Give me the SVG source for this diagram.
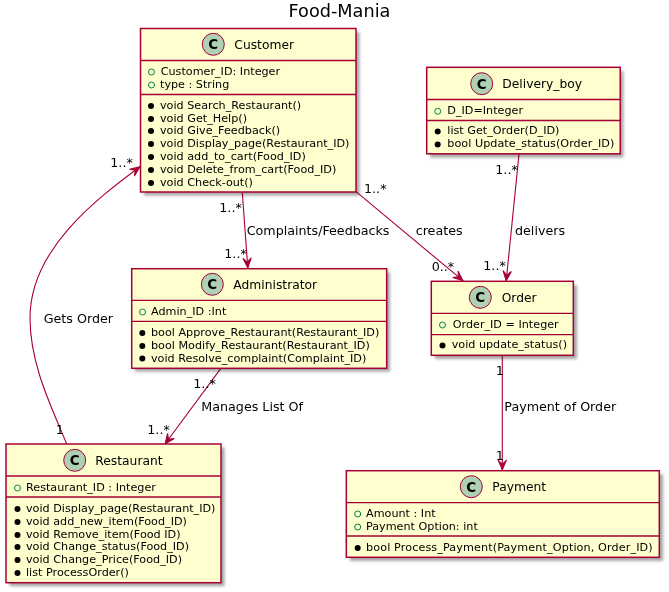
<svg xmlns="http://www.w3.org/2000/svg" width="669" height="592" viewBox="0 0 669 592">
<style>
text{font-family:"DejaVu Sans",sans-serif;fill:#000;opacity:.999}
.t{font-size:17.7px}
.n{font-size:12.3px}
.m{font-size:11.2px}
.l{font-size:12.7px}
.b{fill:#FEFECE;stroke:#A80036;stroke-width:1.5}
.s{fill:#000;opacity:.35}
.d{stroke:#A80036;stroke-width:1.3;fill:none}
.c{fill:#ADD1B2;stroke:#A80036;stroke-width:1}
.v{fill:none;stroke:#038048;stroke-width:1}
.p{fill:#000}
.e{fill:none;stroke:#A80036;stroke-width:1.1;marker-end:url(#arr)}
.g{font-size:13.5px;font-weight:bold}
</style>
<defs>
<filter id="sh" x="-5%" y="-5%" width="115%" height="115%"><feGaussianBlur stdDeviation="1.6"/></filter>
<marker id="arr" viewBox="-11 -6 12 12" refX="0" refY="0" markerWidth="12" markerHeight="12" markerUnits="userSpaceOnUse" orient="auto"><path d="M0 0L-10 -4.2L-6 0L-10 4.2Z" fill="#A80036" stroke="#A80036" stroke-width="1"/></marker>
<g id="ci"><circle class="c" r="11"/><text class="g" x="0" y="4.9" text-anchor="middle">C</text></g>
</defs>
<rect width="669" height="592" fill="#fff"/>
<text class="t" x="339.5" y="16.5" text-anchor="middle">Food-Mania</text>
<g id="connectors">
<path class="e" d="M242.3 192.5L247.8 268"/>
<path class="e" d="M356 191.7L463 280.7"/>
<path class="e" d="M519 154L506.2 281"/>
<path class="e" d="M502.3 355.5V470"/>
<path class="e" d="M220.7 368.7L165 444"/>
<path class="e" d="M66.7 444C52 408 30 365 30 318C30 250 95 200 140 166.7"/>
</g>
<g id="edge-labels">
<text class="l" x="246.7" y="234.7">Complaints/Feedbacks</text>
<text class="l" x="415.7" y="235">creates</text>
<text class="l" x="515" y="235">delivers</text>
<text class="l" x="43.7" y="322.7">Gets Order</text>
<text class="l" x="201.3" y="411">Manages List Of</text>
<text class="l" x="504.3" y="411">Payment of Order</text>
<text class="l" x="219.3" y="212">1..*</text>
<text class="l" x="224.3" y="257.7">1..*</text>
<text class="l" x="364" y="192.7">1..*</text>
<text class="l" x="431.7" y="270.7">0..*</text>
<text class="l" x="495.3" y="174">1..*</text>
<text class="l" x="483.3" y="270">1..*</text>
<text class="l" x="110.3" y="166.7">1..*</text>
<text class="l" x="55.7" y="434">1</text>
<text class="l" x="193.3" y="387.7">1..*</text>
<text class="l" x="147.3" y="434">1..*</text>
<text class="l" x="495.7" y="374.7">1</text>
<text class="l" x="495.7" y="460">1</text>
</g>
<g id="Customer">
<rect class="s" x="144" y="32" width="215.5" height="163.5" filter="url(#sh)"/>
<rect class="b" x="140.5" y="28.5" width="215.5" height="163.5"/>
<path class="d" d="M140.5 60.5H356M140.5 94.5H356"/>
<use href="#ci" x="213.3" y="44.3"/>
<text class="n" x="234.3" y="49">Customer</text>
<circle class="v" cx="151.5" cy="72" r="3"/><text class="m" x="160.7" y="75">Customer_ID: Integer</text>
<circle class="v" cx="151.5" cy="85" r="3"/><text class="m" x="160" y="88">type : String</text>
<g class="p"><circle cx="151" cy="106" r="3"/><circle cx="151" cy="119" r="3"/><circle cx="151" cy="131" r="3"/><circle cx="151" cy="144" r="3"/><circle cx="151" cy="157" r="3"/><circle cx="151" cy="170" r="3"/><circle cx="151" cy="183" r="3"/></g>
<text class="m" x="160" y="108.7">void Search_Restaurant()</text>
<text class="m" x="160" y="121.7">void Get_Help()</text>
<text class="m" x="160" y="133.7">void Give_Feedback()</text>
<text class="m" x="160" y="146.7">void Display_page(Restaurant_ID)</text>
<text class="m" x="160" y="159.7">void add_to_cart(Food_ID)</text>
<text class="m" x="160" y="172.7">void Delete_from_cart(Food_ID)</text>
<text class="m" x="160" y="185.7">void Check-out()</text>
</g>
<g id="Delivery_boy">
<rect class="s" x="430" y="71" width="193.5" height="86.5" filter="url(#sh)"/>
<rect class="b" x="426.7" y="67.3" width="193.5" height="86.5"/>
<path class="d" d="M426.7 99.5H620.2M426.7 120.5H620.2"/>
<use href="#ci" x="481.7" y="83.7"/>
<text class="n" x="502.3" y="88">Delivery_boy</text>
<circle class="v" cx="437.7" cy="111.3" r="3"/><text class="m" x="447.3" y="114.3">D_ID=Integer</text>
<g class="p"><circle cx="437.7" cy="131.5" r="3"/><circle cx="437.7" cy="144.5" r="3"/></g>
<text class="m" x="447.3" y="134">list Get_Order(D_ID)</text>
<text class="m" x="447.3" y="146.7" textLength="167">bool Update_status(Order_ID)</text>
</g>
<g id="Administrator">
<rect class="s" x="135" y="272" width="255" height="99.6" filter="url(#sh)"/>
<rect class="b" x="131.7" y="268.7" width="255" height="99.6"/>
<path class="d" d="M131.7 300.3H386.7M131.7 321.3H386.7"/>
<use href="#ci" x="212.3" y="284.3"/>
<text class="n" x="233.3" y="289">Administrator</text>
<circle class="v" cx="142.5" cy="312" r="3"/><text class="m" x="151" y="315">Admin_ID :Int</text>
<g class="p"><circle cx="142.3" cy="333" r="3"/><circle cx="142.3" cy="346" r="3"/><circle cx="142.3" cy="358.5" r="3"/></g>
<text class="m" x="151" y="335.7">bool Approve_Restaurant(Restaurant_ID)</text>
<text class="m" x="151" y="349">bool Modify_Restaurant(Restaurant_ID)</text>
<text class="m" x="151" y="362">void Resolve_complaint(Complaint_ID)</text>
</g>
<g id="Order">
<rect class="s" x="435" y="285" width="142" height="74" filter="url(#sh)"/>
<rect class="b" x="431.3" y="281.3" width="142" height="74"/>
<path class="d" d="M431.3 313.3H573.3M431.3 334.7H573.3"/>
<use href="#ci" x="480.3" y="297.3"/>
<text class="n" x="501.7" y="302">Order</text>
<circle class="v" cx="442.5" cy="325" r="3"/><text class="m" x="452.7" y="328">Order_ID = Integer</text>
<circle class="p" cx="442.5" cy="345.5" r="3"/>
<text class="m" x="451.7" y="348">void update_status()</text>
</g>
<g id="Restaurant">
<rect class="s" x="9.5" y="447.5" width="215" height="138.7" filter="url(#sh)"/>
<rect class="b" x="6" y="444" width="215" height="138.7"/>
<path class="d" d="M6 476H221M6 497H221"/>
<use href="#ci" x="74.7" y="460.3"/>
<text class="n" x="95.3" y="465">Restaurant</text>
<circle class="v" cx="17.5" cy="488" r="3"/><text class="m" x="26" y="491.3">Restaurant_ID : Integer</text>
<g class="p"><circle cx="17.5" cy="509" r="3"/><circle cx="17.5" cy="522" r="3"/><circle cx="17.5" cy="535" r="3"/><circle cx="17.5" cy="547" r="3"/><circle cx="17.5" cy="560" r="3"/><circle cx="17.5" cy="573" r="3"/></g>
<text class="m" x="26" y="512">void Display_page(Restaurant_ID)</text>
<text class="m" x="26" y="525">void add_new_item(Food_ID)</text>
<text class="m" x="26" y="538">void Remove_item(Food ID)</text>
<text class="m" x="26" y="550">void Change_status(Food_ID)</text>
<text class="m" x="26" y="563">void Change_Price(Food_ID)</text>
<text class="m" x="26" y="576">list ProcessOrder()</text>
</g>
<g id="Payment">
<rect class="s" x="350" y="474.3" width="313" height="86.6" filter="url(#sh)"/>
<rect class="b" x="346.3" y="470.7" width="313" height="86.6"/>
<path class="d" d="M346.3 502.7H659.3M346.3 536H659.3"/>
<use href="#ci" x="471.3" y="486.7"/>
<text class="n" x="492.3" y="491">Payment</text>
<circle class="v" cx="357.7" cy="514" r="3"/><text class="m" x="366" y="517">Amount : Int</text>
<circle class="v" cx="357.7" cy="527" r="3"/><text class="m" x="366" y="530">Payment Option: int</text>
<circle class="p" cx="357.7" cy="548" r="3"/>
<text class="m" x="366" y="550.7" textLength="286.7">bool Process_Payment(Payment_Option, Order_ID)</text>
</g>
</svg>
